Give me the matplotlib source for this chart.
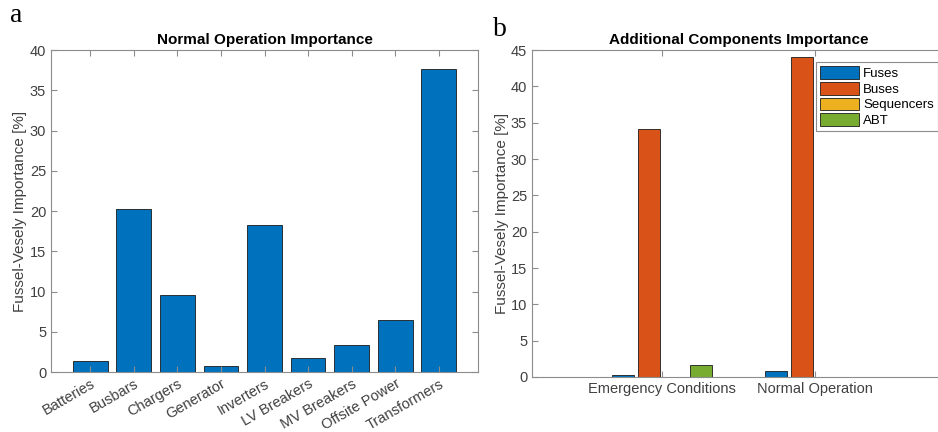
import numpy as np
import matplotlib.pyplot as plt

# left panel data
components = ['Batteries', 'Busbars', 'Chargers', 'Generator', 'Inverters',
              'LV Breakers', 'MV Breakers', 'Offsite Power', 'Transformers']
normal_fv = [1.4, 20.3, 9.6, 0.8, 18.3, 1.8, 3.3, 6.4, 37.6]

# right panel data
conditions = ['Emergency Conditions', 'Normal Operation']
series_names = ['Fuses', 'Buses', 'Sequencers', 'ABT']
fuses = [0.3, 0.8]
buses = [34.1, 44.1]
sequencers = [0.0, 0.0]
abt = [1.6, 0.0]

colors = ['#0072BD', '#D95319', '#EDB120', '#77AC30']
spine_c = '#8c8c8c'
text_c = '#404040'

plt.rcParams['font.family'] = ['Liberation Sans', 'DejaVu Sans']

fig = plt.figure(figsize=(9.38, 4.32), dpi=100)


def style(ax):
    for s in ax.spines.values():
        s.set_color(spine_c)
        s.set_linewidth(0.8)
    ax.tick_params(direction='in', length=4, width=0.8, color=spine_c,
                   labelcolor=text_c, labelsize=10.5, top=True, right=True)


# ---- panel a
ax1 = fig.add_axes([51 / 938, 1 - 372 / 432, 427 / 938, 322 / 432])
x = np.arange(1, len(components) + 1)
ax1.bar(x, normal_fv, width=0.8, color=colors[0], edgecolor='#1a1a1a', linewidth=0.6)
ax1.set_xlim(0.1, 9.9)
ax1.set_ylim(0, 40)
ax1.set_yticks(range(0, 41, 5))
ax1.set_xticks(x)
ax1.set_xticklabels(components, rotation=30, ha='right', rotation_mode='anchor')
style(ax1)
ax1.set_title('Normal Operation Importance', fontsize=11, fontweight='bold', pad=4)
ax1.set_ylabel('Fussel-Vesely Importance [%]', fontsize=11, color=text_c, labelpad=2)

# ---- panel b
ax2 = fig.add_axes([532 / 938, 1 - 377 / 432, 413 / 938, 327 / 432])
xc = np.arange(1, len(conditions) + 1)
slot = 0.17
for i, (name, vals) in enumerate(zip(series_names, [fuses, buses, sequencers, abt])):
    ax2.bar(xc + (i - 1.5) * slot, vals, width=0.145, color=colors[i],
            edgecolor='#1a1a1a', linewidth=0.6, label=name)
ax2.set_xlim(0.15, 2.85)
ax2.set_ylim(0, 45)
ax2.set_yticks(range(0, 46, 5))
ax2.set_xticks(xc)
ax2.set_xticklabels(conditions)
style(ax2)
ax2.set_title('Additional Components Importance', fontsize=11, fontweight='bold', pad=4)
ax2.set_ylabel('Fussel-Vesely Importance [%]', fontsize=11, color=text_c, labelpad=1)
leg = ax2.legend(loc='upper right', bbox_to_anchor=(0.983, 0.963), fontsize=9.5,
                 handlelength=3.0, handleheight=1.1, handletextpad=0.3,
                 labelspacing=0.15, borderpad=0.3, fancybox=False, framealpha=1,
                 borderaxespad=0)
leg.get_frame().set_edgecolor(spine_c)
leg.get_frame().set_linewidth(0.8)

fig.text(10 / 938, 1 - 16 / 432, 'a', fontsize=20, family='Liberation Serif', va='center')
fig.text(493 / 938, 1 - 30 / 432, 'b', fontsize=20, family='Liberation Serif', va='center')

fig.savefig('out.png', dpi=100)
